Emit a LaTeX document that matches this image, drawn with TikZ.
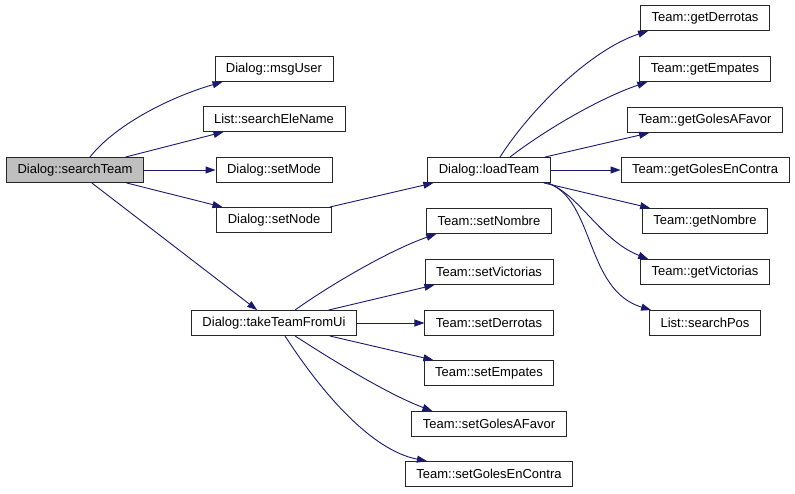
\documentclass[tikz,border=0pt]{standalone}
\usepackage{fontspec}
\setmainfont{Liberation Sans}
\usepackage{tikz}
\usetikzlibrary{
    calc,
    arrows.meta
}
\definecolor{edgeblue}{RGB}{25,25,112}
\definecolor{rootgray}{RGB}{191,191,191}

\begin{document}
\begin{tikzpicture}[
        x=1pt, y=-1pt,
        fn/.style={draw=black!85, line width=0.9pt, fill=white, inner xsep=11pt, inner ysep=0pt,
            minimum height=25pt, font=\fontsize{13}{15}\selectfont},
        root/.style={fn, fill=rootgray},
        call/.style={draw=edgeblue, line width=0.9pt, -{Triangle[length=10pt,width=7pt]}}
    ]
    \useasboundingbox[fill=white] (0,0) rectangle (795,493);

    % caller and first level
    \node[root] (searchTeam) at (75,170) {Dialog::searchTeam};
    \foreach \n/\y in {msgUser/69,setMode/170,setNode/220} {
        \node[fn] (\n) at (274,\y) {Dialog::\n};
    }
    \node[fn] (searchEleName) at (274,119) {List::searchEleName};
    \node[fn] (takeTeamFromUi) at (274,323) {Dialog::takeTeamFromUi};

    % second level
    \node[fn] (loadTeam) at (489,170) {Dialog::loadTeam};
    \foreach \n/\y in {setNombre/221,setVictorias/272,setDerrotas/323,setEmpates/373,setGolesAFavor/424,setGolesEnContra/474} {
        \node[fn] (\n) at (489,\y) {Team::\n};
    }

    % third level
    \foreach \n/\y in {getDerrotas/18,getEmpates/69,getGolesAFavor/120,getGolesEnContra/170,getNombre/221,getVictorias/272} {
        \node[fn] (\n) at (705,\y) {Team::\n};
    }
    \node[fn] (searchPos) at (705,323) {List::searchPos};

    \foreach \p/\q in {searchTeam/searchEleName,searchTeam/setMode,searchTeam/setNode,searchTeam/takeTeamFromUi,
        setNode/loadTeam,loadTeam/getGolesAFavor,loadTeam/getGolesEnContra,loadTeam/getNombre,
        takeTeamFromUi/setVictorias,takeTeamFromUi/setDerrotas,takeTeamFromUi/setEmpates} {
        \draw[call] (\p) -- (\q);
    }

    \draw[call] ([xshift=15pt]searchTeam.north) .. controls (115,125) and (170,97) .. ([xshift=8pt]msgUser.south west);
    \draw[call] ([xshift=11pt]loadTeam.north) .. controls (530,110) and (590,50) .. ([xshift=8pt]getDerrotas.south west);
    \draw[call] ([xshift=21pt]loadTeam.north) .. controls (545,130) and (600,98) .. ([xshift=8pt]getEmpates.south west);
    \draw[call] ([xshift=-3pt]loadTeam.south east) .. controls (580,195) and (600,240) .. ([xshift=8pt]getVictorias.north west);
    \draw[call] ([xshift=-3pt]loadTeam.south east) .. controls (595,200) and (585,290) .. ([xshift=2pt]searchPos.north west);
    \draw[call] ([xshift=21pt]takeTeamFromUi.north) .. controls (330,285) and (390,250) .. ([xshift=10pt]setNombre.south west);
    \draw[call] ([xshift=21pt]takeTeamFromUi.south) .. controls (340,365) and (390,395) .. ([xshift=21pt]setGolesAFavor.north west);
    \draw[call] ([xshift=11pt]takeTeamFromUi.south) .. controls (320,390) and (370,450) .. ([xshift=22pt]setGolesEnContra.north west);
\end{tikzpicture}
\end{document}
